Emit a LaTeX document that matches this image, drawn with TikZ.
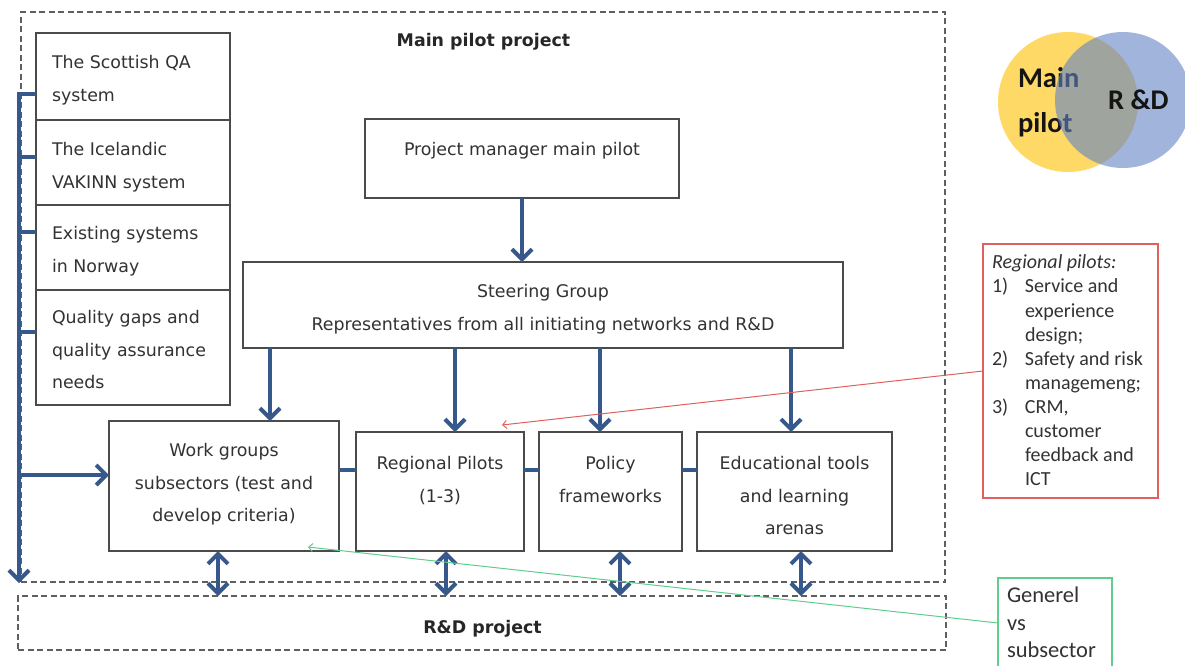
\documentclass[tikz,border=0pt]{standalone}
\usepackage{fontspec}
\setmainfont{DejaVu Sans}
\newfontfamily\carl{Carlito}
\usetikzlibrary{arrows.meta,calc}
\definecolor{arrowc}{RGB}{55,88,138}
\definecolor{boxc}{RGB}{75,75,75}
\definecolor{txtc}{RGB}{50,50,50}
\definecolor{dashc}{RGB}{95,95,95}
\definecolor{redc}{RGB}{225,95,95}
\definecolor{greenc}{RGB}{95,205,140}
\definecolor{venny}{RGB}{255,217,102}
\definecolor{vennb}{RGB}{97,130,197}
\begin{document}
\begin{tikzpicture}[x=1pt,y=-1pt,
  every node/.style={inner sep=0pt, outer sep=0pt, text=txtc},
  boxtext/.style={font=\fontsize{17.4}{32.5}\selectfont, align=center, anchor=north},
  lefttext/.style={font=\fontsize{17.4}{32.5}\selectfont, align=left, anchor=north west},
  plainbox/.style={draw=boxc, line width=1.4pt},
  dbox/.style={draw=dashc, line width=1.2pt, dash pattern=on 6pt off 3.5pt},
  bigarrow/.style={draw=arrowc, line width=4pt, -{Straight Barb[length=10pt,width=20pt]}},
  dblarrow/.style={draw=arrowc, line width=4pt, {Straight Barb[length=10pt,width=20pt]}-{Straight Barb[length=10pt,width=20pt]}},
  linkline/.style={draw=arrowc, line width=4pt},
  redline/.style={draw=redc, line width=1pt, -{Straight Barb[length=4pt,width=8pt]}},
  greenline/.style={draw=greenc, line width=1pt, -{Straight Barb[length=4pt,width=8pt]}},
  titletext/.style={font=\fontsize{17.4}{20}\selectfont\bfseries, text=black!85, anchor=base},
  venntext/.style={font=\carl\fontsize{28.5}{34}\selectfont\bfseries, text=black!92, anchor=base west}
]
\useasboundingbox (0,0) rectangle (1185,665);

% dashed project frames
\node[dbox, minimum width=924pt, minimum height=570pt] (mainbox) at (483,297) {};
\node[dbox, minimum width=928pt, minimum height=54pt] (rd) at (482,623) {};
\node[titletext] (mpt) at (483.5,46) {Main pilot project};
\node[titletext] (rdt) at (482.5,633) {R\&D project};

% left stack
\node[plainbox, minimum width=194pt, minimum height=87pt] (s1) at (133,76.5) {};
\node[plainbox, minimum width=194pt, minimum height=85pt] (s2) at (133,162.5) {};
\node[plainbox, minimum width=194pt, minimum height=85pt] (s3) at (133,247.5) {};
\node[plainbox, minimum width=194pt, minimum height=115pt] (s4) at (133,347.5) {};
\node[lefttext] (s1t) at (52,55.5) {The Scottish QA\\system};
\node[lefttext] (s2t) at (52,142.5) {The Icelandic\\VAKINN system};
\node[lefttext] (s3t) at (52,226.5) {Existing systems\\in Norway};
\node[lefttext] (s4t) at (52,310.5) {Quality gaps and\\quality assurance\\needs};

% main boxes
\node[plainbox, minimum width=314pt, minimum height=79pt] (pm) at (522,158.5) {};
\node[plainbox, minimum width=600pt, minimum height=86pt] (sg) at (543,305) {};
\node[plainbox, minimum width=230pt, minimum height=130pt] (wg) at (224,486) {};
\node[plainbox, minimum width=168pt, minimum height=119pt] (rp) at (440,491.5) {};
\node[plainbox, minimum width=143pt, minimum height=119pt] (pf) at (610.5,491.5) {};
\node[plainbox, minimum width=195pt, minimum height=119pt] (et) at (794.5,491.5) {};

\node[boxtext] (pmt) at (522,142.5) {Project manager main pilot};
\node[boxtext] (sgt) at (543,284.5) {Steering Group\\Representatives from all initiating networks and R\&D};
\node[boxtext] (wgt) at (224,443.5) {Work groups\\subsectors (test and\\develop criteria)};
\node[boxtext] (rpt) at (440,456.5) {Regional Pilots\\(1-3)};
\node[boxtext] (pft) at (610.5,456.5) {Policy\\frameworks};
\node[boxtext] (ett) at (794.5,456.5) {Educational tools\\and learning\\arenas};

% left spine
\coordinate (sp1) at (19,93.5);
\coordinate (sp2) at (19,156.5);
\coordinate (sp3) at (19,232);
\coordinate (sp4) at (19,331.5);
\coordinate (sp5) at (19,475);
\coordinate (spend) at (19,583);
\draw[bigarrow] (sp1 -| s1.west) -- (sp1) -- (spend);
\draw[linkline] (sp2) -- (sp2 -| s2.west);
\draw[linkline] (sp3) -- (sp3 -| s3.west);
\draw[linkline] (sp4) -- (sp4 -| s4.west);
\draw[bigarrow] (sp5) -- (sp5 -| wg.west);

% downward arrows
\draw[bigarrow] (pm.south) -- (pm.south |- sg.north);
\coordinate (a1) at ([xshift=46pt]wg.north);
\coordinate (a2) at ([xshift=15pt]rp.north);
\coordinate (a3) at ([xshift=-10.5pt]pf.north);
\coordinate (a4) at ([xshift=-3.5pt]et.north);
\draw[bigarrow] (a1 |- sg.south) -- (a1);
\draw[bigarrow] (a2 |- sg.south) -- (a2);
\draw[bigarrow] (a3 |- sg.south) -- (a3);
\draw[bigarrow] (a4 |- sg.south) -- (a4);

% links between bottom boxes
\coordinate (lk) at (0,470);
\draw[linkline] (lk -| wg.east) -- (lk -| rp.west);
\draw[linkline] (lk -| rp.east) -- (lk -| pf.west);
\draw[linkline] (lk -| pf.east) -- (lk -| et.west);

% double arrows to R&D
\coordinate (d1) at ([xshift=-6pt]wg.south);
\coordinate (d2) at ([xshift=6pt]rp.south);
\coordinate (d3) at ([xshift=9.5pt]pf.south);
\coordinate (d4) at ([xshift=6.5pt]et.south);
\draw[dblarrow] (d1) -- (d1 |- rd.north);
\draw[dblarrow] (d2) -- (d2 |- rd.north);
\draw[dblarrow] (d3) -- (d3 |- rd.north);
\draw[dblarrow] (d4) -- (d4 |- rd.north);

% Venn diagram
\fill[venny] (1068,102) circle[radius=70pt];
\node[venntext] (vmain) at (1018,87) {Main};
\node[venntext] (vpilot) at (1018,132) {pilot};
\fill[vennb, fill opacity=0.6] (1123,100) circle[radius=68pt];
\node[venntext] (vrd) at (1108,109.5) {R \&D};

% regional pilots note
\node[draw=redc, line width=1.2pt, minimum width=175pt, minimum height=254pt] (note) at (1070.5,371) {};
\node[font=\carl\fontsize{20}{24.1}\selectfont, align=left, anchor=north west] (notet) at (992,255)
  {\textit{Regional pilots:}\\
   \makebox[33pt][l]{1)}Service and\\
   \hspace*{33pt}experience\\
   \hspace*{33pt}design;\\
   \makebox[33pt][l]{2)}Safety and risk\\
   \hspace*{33pt}managemeng;\\
   \makebox[33pt][l]{3)}CRM,\\
   \hspace*{33pt}customer\\
   \hspace*{33pt}feedback and\\
   \hspace*{33pt}ICT};
\coordinate (rtip) at (502,425);
\draw[redline] (note.west) -- (rtip);

% general vs subsector note
\draw[draw=greenc, line width=1.2pt] (998,666) |- (1112,578) -- (1112,666);
\node[font=\carl\fontsize{22.5}{27.5}\selectfont, align=left, anchor=north west] (gent) at (1007,587)
  {Generel\\vs\\subsector};
\coordinate (gw) at (998,623);
\coordinate (gtip) at (308,547);
\draw[greenline] (gw) -- (gtip);
\end{tikzpicture}
\end{document}
